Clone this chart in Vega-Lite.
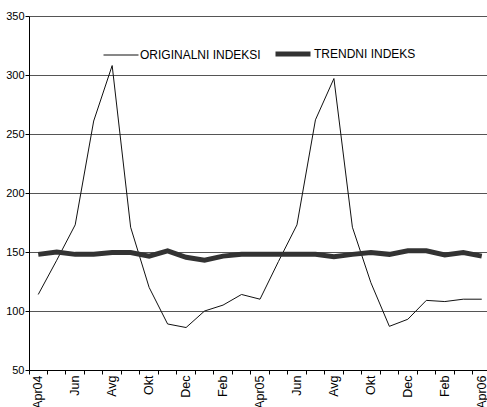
{
  "$schema": "https://vega.github.io/schema/vega-lite/v6.json",
  "autosize": "none",
  "width": 462,
  "height": 354,
  "padding": {"left": 29, "top": 16, "right": 0, "bottom": 37},
  "background": "white",
  "config": {
    "view": {"stroke": null},
    "font": "Liberation Sans",
    "axis": {"labelFont": "Liberation Sans", "labelFontSize": 11, "labelColor": "#000000", "domainColor": "#000000", "tickColor": "#000000", "title": null},
    "legend": {"labelFont": "Liberation Sans", "labelFontSize": 12, "labelColor": "#000000"}
  },
  "data": {
    "values": [
      {"mesec": "Apr04", "serija": "ORIGINALNI INDEKSI", "vrednost": 114},
      {"mesec": "Maj04", "serija": "ORIGINALNI INDEKSI", "vrednost": 143},
      {"mesec": "Jun04", "serija": "ORIGINALNI INDEKSI", "vrednost": 173},
      {"mesec": "Jul04", "serija": "ORIGINALNI INDEKSI", "vrednost": 261},
      {"mesec": "Avg04", "serija": "ORIGINALNI INDEKSI", "vrednost": 308},
      {"mesec": "Sep04", "serija": "ORIGINALNI INDEKSI", "vrednost": 171},
      {"mesec": "Okt04", "serija": "ORIGINALNI INDEKSI", "vrednost": 120},
      {"mesec": "Nov04", "serija": "ORIGINALNI INDEKSI", "vrednost": 89},
      {"mesec": "Dec04", "serija": "ORIGINALNI INDEKSI", "vrednost": 86},
      {"mesec": "Jan05", "serija": "ORIGINALNI INDEKSI", "vrednost": 100},
      {"mesec": "Feb05", "serija": "ORIGINALNI INDEKSI", "vrednost": 105},
      {"mesec": "Mar05", "serija": "ORIGINALNI INDEKSI", "vrednost": 114},
      {"mesec": "Apr05", "serija": "ORIGINALNI INDEKSI", "vrednost": 110},
      {"mesec": "Maj05", "serija": "ORIGINALNI INDEKSI", "vrednost": 142},
      {"mesec": "Jun05", "serija": "ORIGINALNI INDEKSI", "vrednost": 173},
      {"mesec": "Jul05", "serija": "ORIGINALNI INDEKSI", "vrednost": 262},
      {"mesec": "Avg05", "serija": "ORIGINALNI INDEKSI", "vrednost": 297},
      {"mesec": "Sep05", "serija": "ORIGINALNI INDEKSI", "vrednost": 171},
      {"mesec": "Okt05", "serija": "ORIGINALNI INDEKSI", "vrednost": 124},
      {"mesec": "Nov05", "serija": "ORIGINALNI INDEKSI", "vrednost": 87},
      {"mesec": "Dec05", "serija": "ORIGINALNI INDEKSI", "vrednost": 93},
      {"mesec": "Jan06", "serija": "ORIGINALNI INDEKSI", "vrednost": 109},
      {"mesec": "Feb06", "serija": "ORIGINALNI INDEKSI", "vrednost": 108},
      {"mesec": "Mar06", "serija": "ORIGINALNI INDEKSI", "vrednost": 110},
      {"mesec": "Apr06", "serija": "ORIGINALNI INDEKSI", "vrednost": 110},
      {"mesec": "Apr04", "serija": "TRENDNI INDEKS", "vrednost": 148},
      {"mesec": "Maj04", "serija": "TRENDNI INDEKS", "vrednost": 150},
      {"mesec": "Jun04", "serija": "TRENDNI INDEKS", "vrednost": 148},
      {"mesec": "Jul04", "serija": "TRENDNI INDEKS", "vrednost": 148},
      {"mesec": "Avg04", "serija": "TRENDNI INDEKS", "vrednost": 149.5},
      {"mesec": "Sep04", "serija": "TRENDNI INDEKS", "vrednost": 149.5},
      {"mesec": "Okt04", "serija": "TRENDNI INDEKS", "vrednost": 146.5},
      {"mesec": "Nov04", "serija": "TRENDNI INDEKS", "vrednost": 151},
      {"mesec": "Dec04", "serija": "TRENDNI INDEKS", "vrednost": 145.5},
      {"mesec": "Jan05", "serija": "TRENDNI INDEKS", "vrednost": 143},
      {"mesec": "Feb05", "serija": "TRENDNI INDEKS", "vrednost": 146.5},
      {"mesec": "Mar05", "serija": "TRENDNI INDEKS", "vrednost": 148},
      {"mesec": "Apr05", "serija": "TRENDNI INDEKS", "vrednost": 148},
      {"mesec": "Maj05", "serija": "TRENDNI INDEKS", "vrednost": 148},
      {"mesec": "Jun05", "serija": "TRENDNI INDEKS", "vrednost": 148},
      {"mesec": "Jul05", "serija": "TRENDNI INDEKS", "vrednost": 148},
      {"mesec": "Avg05", "serija": "TRENDNI INDEKS", "vrednost": 146},
      {"mesec": "Sep05", "serija": "TRENDNI INDEKS", "vrednost": 148},
      {"mesec": "Okt05", "serija": "TRENDNI INDEKS", "vrednost": 149.5},
      {"mesec": "Nov05", "serija": "TRENDNI INDEKS", "vrednost": 148},
      {"mesec": "Dec05", "serija": "TRENDNI INDEKS", "vrednost": 151},
      {"mesec": "Jan06", "serija": "TRENDNI INDEKS", "vrednost": 151},
      {"mesec": "Feb06", "serija": "TRENDNI INDEKS", "vrednost": 147.5},
      {"mesec": "Mar06", "serija": "TRENDNI INDEKS", "vrednost": 149.5},
      {"mesec": "Apr06", "serija": "TRENDNI INDEKS", "vrednost": 146.5}
    ]
  },
  "mark": {"type": "line", "strokeJoin": "miter", "clip": false},
  "encoding": {
    "x": {
      "field": "mesec", "type": "ordinal", "sort": null,
      "scale": {"type": "band", "paddingInner": 0, "paddingOuter": 0},
      "axis": {
        "labelExpr": "datum.index < 0 ? '' : (indexof(['Apr04','Jun04','Avg04','Okt04','Dec04','Feb05','Apr05','Jun05','Avg05','Okt05','Dec05','Feb06','Apr06'], datum.value) < 0 ? '' : (substring(datum.value,0,3) == 'Apr' ? datum.value : substring(datum.value,0,3)))",
        "labelAngle": -90, "labelAlign": "right", "labelBaseline": "middle", "labelOverlap": false, "labelFontSize": 12.5,
        "ticks": true, "bandPosition": 0, "tickSize": 4, "labelPadding": 1, "domain": true, "domainColor": "#000000", "grid": false
      }
    },
    "y": {
      "field": "vrednost", "type": "quantitative",
      "scale": {"domain": [50, 350], "nice": false, "zero": false},
      "axis": {"values": [50,100,150,200,250,300,350], "tickSize": 4, "labelPadding": 1, "grid": true, "gridColor": "#555555", "gridWidth": 1, "gridOpacity": 1, "domainColor": "#000000"}
    },
    "color": {
      "field": "serija", "type": "nominal",
      "scale": {"range": ["#111111", "#333333"]},
      "legend": {"title": null, "orient": "none", "legendX": 74, "legendY": 18, "direction": "horizontal", "symbolType": "stroke", "symbolSize": 1225, "labelOffset": 1, "columnPadding": 4, "symbolOffset": 0, "padding": 0}
    },
    "strokeWidth": {
      "field": "serija", "type": "nominal",
      "scale": {"range": [1, 5]},
      "legend": {"title": null, "orient": "none", "legendX": 74, "legendY": 18, "direction": "horizontal", "symbolType": "stroke", "symbolSize": 1225, "labelOffset": 1, "columnPadding": 4, "symbolOffset": 0, "padding": 0}
    }
  }
}
